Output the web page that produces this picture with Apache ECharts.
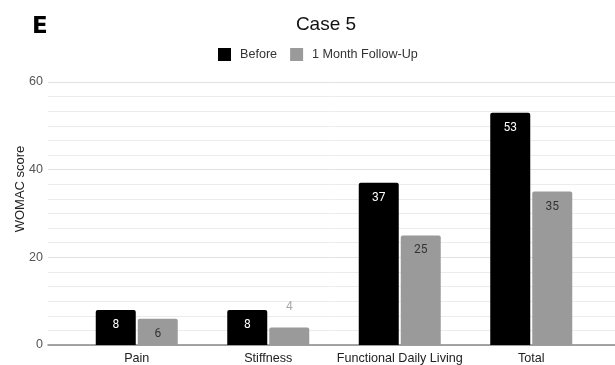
<!DOCTYPE html>
<html>
<head>
<meta charset="utf-8">
<script src="https://cdn.jsdelivr.net/npm/echarts@6/dist/echarts.min.js"></script>
<style>html,body{margin:0;padding:0;background:#fff;}#c{width:615px;height:365px;}</style>
</head>
<body>
<div id="c"></div>
<script>
var categories = ["Pain", "Stiffness", "Functional Daily Living", "Total"];
var before = [8, 8, 37, 53];
var followUp = [6, 4, 25, 35];
var seriesNames = ["Before", "1 Month Follow-Up"];
var yTicks = [0, 20, 40, 60];

var chart = echarts.init(document.getElementById('c'), null, {renderer: 'canvas'});
var font = '"Liberation Sans", Arial, sans-serif';

var followData = followUp.map(function (v, i) {
  if (v < 5) {
    return {value: v, label: {position: 'top', distance: 14, color: '#aaa'}};
  }
  return v;
});

chart.setOption({
  animation: false,
  title: [
    {text: 'Case 5', left: 321, top: 10, textAlign: 'center',
     textStyle: {fontFamily: font, fontSize: 19, fontWeight: 'normal', color: '#111'}},
    {text: 'E', left: 27, top: 11,
     textStyle: {fontFamily: '"DejaVu Sans", sans-serif', fontSize: 23, fontWeight: 'bold', color: '#000'}}
  ],
  legend: {
    data: seriesNames,
    top: 43, left: 213,
    itemWidth: 13, itemHeight: 13, itemGap: 13,
    icon: 'rect',
    textStyle: {fontFamily: font, fontSize: 12.6, color: '#333', padding: [0, 0, 0, 4]}
  },
  grid: [
    {left: 71, right: 18, top: 82, bottom: 20},
    {left: 48, right: 0, top: 82, bottom: 20}
  ],
  xAxis: [
    {type: 'category', gridIndex: 0, data: categories,
     axisLine: {show: false}, axisTick: {show: false},
     axisLabel: {interval: 0, fontFamily: font, fontSize: 12.6, color: '#222', margin: 7}},
    {type: 'value', gridIndex: 1, min: 0, max: 1,
     axisLine: {show: true, lineStyle: {color: '#888', width: 1.5}},
     axisTick: {show: false}, axisLabel: {show: false}, splitLine: {show: false}}
  ],
  yAxis: [
    {type: 'value', gridIndex: 0, min: yTicks[0], max: yTicks[yTicks.length - 1], interval: 20,
     show: false, splitLine: {show: false}},
    {type: 'value', gridIndex: 1, min: yTicks[0], max: yTicks[yTicks.length - 1], interval: 20,
     name: 'WOMAC score', nameLocation: 'middle', nameGap: 21, nameMoveOverlap: false,
     nameTextStyle: {fontFamily: font, fontSize: 13, color: '#222', padding: [0, 0, 0, 49]},
     axisLine: {show: false}, axisTick: {show: false},
     axisLabel: {fontFamily: font, fontSize: 12.5, color: '#555', margin: 5},
     splitLine: {show: true, lineStyle: {color: '#e2e2e2', width: 1}},
     minorTick: {show: false, splitNumber: 6},
     minorSplitLine: {show: true, lineStyle: {color: '#ececec', width: 1}}}
  ],
  series: [
    {name: seriesNames[0], type: 'bar', xAxisIndex: 0, yAxisIndex: 0,
     data: before, barWidth: 40, barGap: '5%',
     itemStyle: {color: '#000', borderRadius: [2, 2, 0, 0]},
     label: {show: true, position: 'insideTop', distance: 9, color: '#fff',
             fontFamily: 'Roboto, sans-serif', fontSize: 12}},
    {name: seriesNames[1], type: 'bar', xAxisIndex: 0, yAxisIndex: 0,
     data: followData, barWidth: 40, barGap: '5%',
     itemStyle: {color: '#9a9a9a', borderRadius: [2, 2, 0, 0]},
     label: {show: true, position: 'insideTop', distance: 9, color: '#333',
             fontFamily: 'Roboto, sans-serif', fontSize: 12}}
  ]
});
</script>
</body>
</html>
